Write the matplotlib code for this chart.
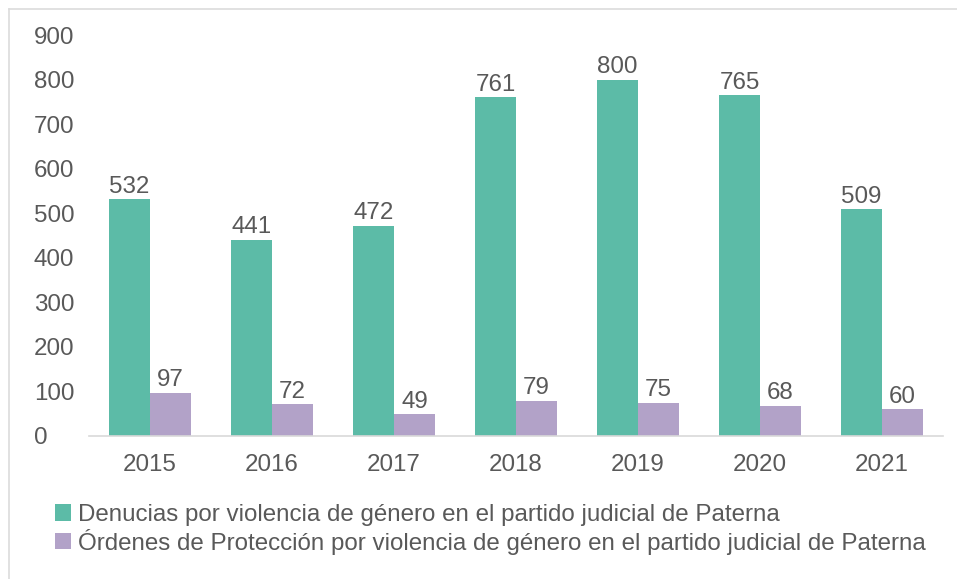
import matplotlib
matplotlib.use("Agg")
import matplotlib.pyplot as plt
import numpy as np
from matplotlib.lines import Line2D

years = ["2015", "2016", "2017", "2018", "2019", "2020", "2021"]
denuncias = [532, 441, 472, 761, 800, 765, 509]
ordenes = [97, 72, 49, 79, 75, 68, 60]
legend_labels = [
    "Denucias por violencia de género en el partido judicial de Paterna",
    "Órdenes de Protección por violencia de género en el partido judicial de Paterna",
]
yticks = [0, 100, 200, 300, 400, 500, 600, 700, 800, 900]

green = "#5CBBA7"
purple = "#B2A2C8"
textc = "#595959"
fs = 17.4

plt.rcParams["font.family"] = ["Liberation Sans", "DejaVu Sans"]

W, H = 957, 579
fig = plt.figure(figsize=(W / 100, H / 100), dpi=100)
ax = fig.add_axes([89 / W, 1 - 436 / H, (943 - 89) / W, (436 - 35) / H])

x = np.arange(len(years))
bw = 0.336
b1 = ax.bar(x - bw / 2, denuncias, bw, color=green, label=legend_labels[0])
b2 = ax.bar(x + bw / 2, ordenes, bw, color=purple, label=legend_labels[1])
ax.bar_label(b1, padding=1, fontsize=fs, color=textc)
ax.bar_label(b2, padding=1, fontsize=fs, color=textc)

ax.set_xlim(-0.5, len(years) - 0.5)
ax.set_ylim(0, 900)
ax.set_yticks(yticks)
ax.set_yticklabels([str(v) for v in yticks])
ax.set_xticks(x)
ax.set_xticklabels(years)
for lab in ax.get_yticklabels():
    lab.set_horizontalalignment("left")
ax.tick_params(axis="y", length=0, pad=(89 - 34) * 0.72, labelsize=fs, labelcolor=textc)
ax.tick_params(axis="x", length=0, pad=13, labelsize=fs, labelcolor=textc)

for s in ["top", "right", "left"]:
    ax.spines[s].set_visible(False)
ax.spines["bottom"].set_color("#D9D9D9")
ax.spines["bottom"].set_linewidth(1.2)

leg = fig.legend(handles=[b1, b2], labels=legend_labels, loc="upper left",
                 bbox_to_anchor=(55 / W, 1 - 504 / H), frameon=False,
                 fontsize=fs, handlelength=0.65, handleheight=0.65,
                 handletextpad=0.32, labelspacing=0.12, borderaxespad=0,
                 borderpad=0)
for t in leg.get_texts():
    t.set_color(textc)

# outer frame lines
fig.add_artist(Line2D([9 / W, 1], [1 - 9 / H, 1 - 9 / H], color="#DCDCDC", lw=1.2))
fig.add_artist(Line2D([9 / W, 9 / W], [0, 1 - 9 / H], color="#DCDCDC", lw=1.2))

fig.savefig("out.png", dpi=100)
